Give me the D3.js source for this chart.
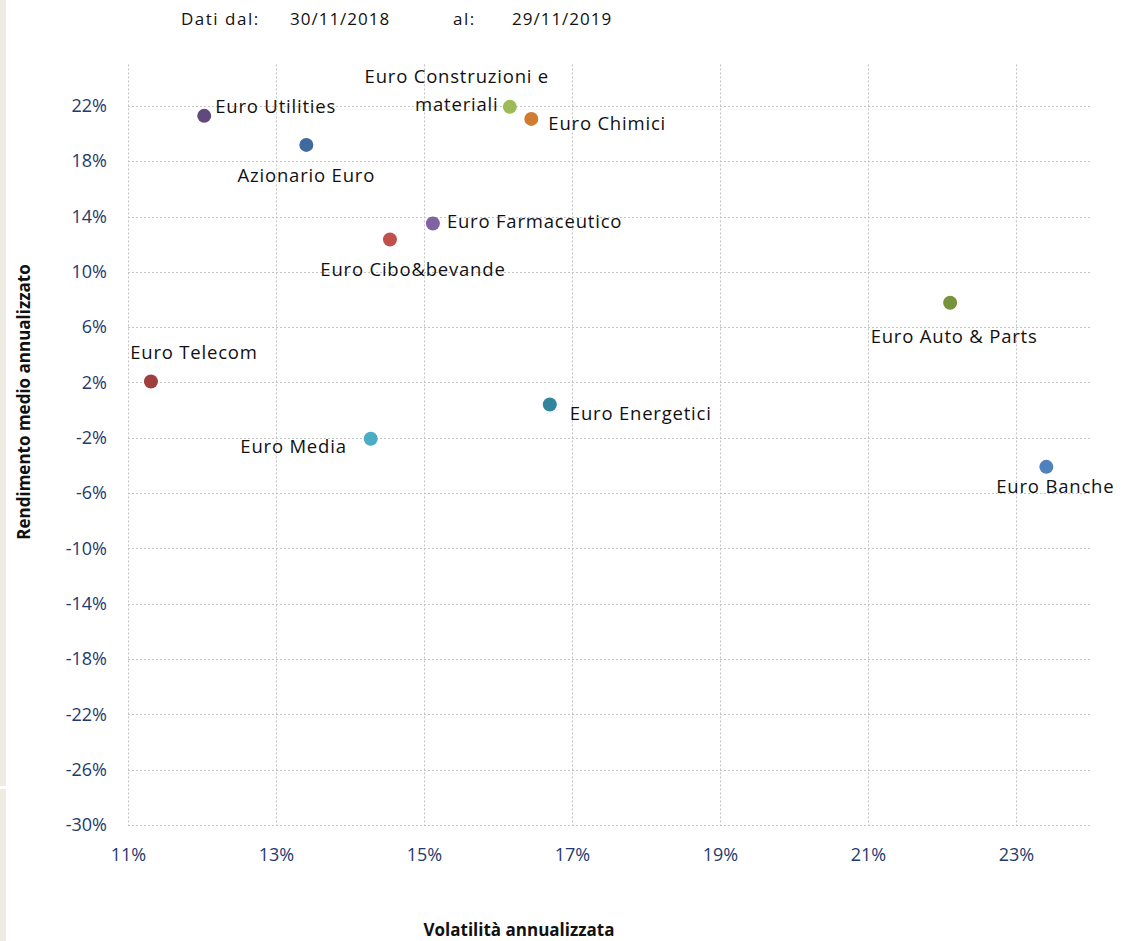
<!DOCTYPE html>
<html>
<head>
<meta charset="utf-8">
<script src="https://cdn.jsdelivr.net/npm/d3@7"></script>
<style>
  html, body { margin: 0; padding: 0; background: #fff; }
  svg { display: block; }
  .tick-label { font-family: "Open Sans", "Noto Sans", sans-serif; font-size: 18px; fill: #1f3a6e; }
  .pt-label { font-family: "Open Sans", "Noto Sans", sans-serif; font-size: 18.5px; letter-spacing: 0.8px; fill: #111; }
  .axis-title { font-family: "Open Sans", "Noto Sans", sans-serif; font-size: 17px; font-weight: bold; fill: #111; }
  .header { font-family: "Open Sans", "Noto Sans", sans-serif; font-size: 17px; fill: #111; }
</style>
</head>
<body>
<script>
// Sector indices: annualised volatility (%) vs annualised mean return (%)
const names = [
  "Euro Utilities", "Azionario Euro", "Euro Construzioni e\nmateriali", "Euro Chimici",
  "Euro Farmaceutico", "Euro Cibo&bevande", "Euro Auto & Parts", "Euro Telecom",
  "Euro Energetici", "Euro Media", "Euro Banche"
];
const volatility = [12.03, 13.41, 16.16, 16.45, 15.12, 14.54, 22.11, 11.31, 16.70, 14.28, 23.41];
const returns    = [21.28, 19.18, 21.93, 21.06, 13.50, 12.34, 7.76, 2.07, 0.41, -2.07, -4.10];
const colors = ["#604a7b", "#3e6aa0", "#9bbb59", "#d07b32", "#8064a2", "#c0504d",
                "#77933c", "#a0403e", "#31859c", "#4bacc6", "#4f81bd"];
// label placement per point: [dx, dy, anchor]
const labelPos = [
  [11, -3, "start"], [0, 37, "middle"], [-53, -24, "middle"], [17, 11, "start"],
  [14, 5, "start"], [23, 37, "middle"], [4, 40, "middle"], [43, -23, "middle"],
  [20, 16, "start"], [-24, 14, "end"], [9, 26, "middle"]
];
const xTicks = [11, 13, 15, 17, 19, 21, 23];
const yTicks = [-30, -26, -22, -18, -14, -10, -6, -2, 2, 6, 10, 14, 18, 22];
const period = { from: "30/11/2018", to: "29/11/2019" };

const W = 1124, H = 941;
const plot = { left: 128, right: 1090, top: 64.4, bottom: 825 };

const svg = d3.select("body").append("svg").attr("width", W).attr("height", H);

// thin page-edge strip
svg.append("rect").attr("x", 0).attr("y", 0).attr("width", 6).attr("height", 786).attr("fill", "#eeebe0");
svg.append("rect").attr("x", 0).attr("y", 789).attr("width", 6).attr("height", H - 789).attr("fill", "#eeebe0");

const x = d3.scaleLinear().domain([11, 24]).range([plot.left, plot.right]);
const y = d3.scaleLinear().domain([-30, 25]).range([plot.bottom, plot.top]);

// header
const hdr = svg.append("g").attr("class", "header");
hdr.append("text").attr("x", 181).attr("y", 25).attr("letter-spacing", "1.5px").text("Dati dal:");
hdr.append("text").attr("x", 290).attr("y", 25).attr("letter-spacing", "1px").text(period.from);
hdr.append("text").attr("x", 453).attr("y", 25).attr("letter-spacing", "1.5px").text("al:");
hdr.append("text").attr("x", 512).attr("y", 25).attr("letter-spacing", "1px").text(period.to);

// gridlines
const grid = svg.append("g").attr("stroke", "#c4c4c4").attr("stroke-width", 1).attr("stroke-dasharray", "2,2");
grid.selectAll("line.h").data(yTicks).join("line")
  .attr("x1", plot.left).attr("x2", plot.right)
  .attr("y1", d => Math.round(y(d)) + 0.5).attr("y2", d => Math.round(y(d)) + 0.5);
grid.selectAll("line.v").data(xTicks).join("line")
  .attr("y1", plot.top).attr("y2", plot.bottom)
  .attr("x1", d => Math.round(x(d)) + 0.5).attr("x2", d => Math.round(x(d)) + 0.5);

// axes (labels only)
const yAxis = d3.axisLeft(y).tickValues(yTicks).tickSize(0).tickPadding(21).tickFormat(d => d + "%");
const gy = svg.append("g").attr("transform", `translate(${plot.left},0)`).call(yAxis);
gy.select(".domain").remove();
gy.selectAll("text").attr("class", "tick-label").attr("font-family", null).attr("font-size", null).attr("fill", null);

const xAxis = d3.axisBottom(x).tickValues(xTicks).tickSize(0).tickPadding(23).tickFormat(d => d + "%");
const gx = svg.append("g").attr("transform", `translate(0,${plot.bottom})`).call(xAxis);
gx.select(".domain").remove();
gx.selectAll("text").attr("class", "tick-label").attr("font-family", null).attr("font-size", null).attr("fill", null);

// axis titles
svg.append("text").attr("class", "axis-title").attr("text-anchor", "middle")
  .attr("x", 519).attr("y", 936).text("Volatilità annualizzata");
svg.append("text").attr("class", "axis-title").attr("text-anchor", "middle")
  .attr("transform", "translate(30,402) rotate(-90)").text("Rendimento medio annualizzato");

// points
const data = names.map((n, i) => ({ name: n, vx: volatility[i], vy: returns[i], color: colors[i], pos: labelPos[i] }));
svg.append("g").selectAll("circle").data(data).join("circle")
  .attr("cx", d => x(d.vx)).attr("cy", d => y(d.vy)).attr("r", 7)
  .attr("fill", d => d.color);

// point labels
const lbl = svg.append("g").selectAll("text").data(data).join("text")
  .attr("class", "pt-label")
  .attr("text-anchor", d => d.pos[2])
  .attr("x", d => x(d.vx) + d.pos[0])
  .attr("y", d => y(d.vy) + d.pos[1]);
lbl.each(function(d) {
  const lines = d.name.split("\n");
  const t = d3.select(this);
  lines.forEach((ln, k) => {
    t.append("tspan").attr("x", x(d.vx) + d.pos[0]).attr("dy", k === 0 ? 0 : 28).text(ln);
  });
});
</script>
</body>
</html>
